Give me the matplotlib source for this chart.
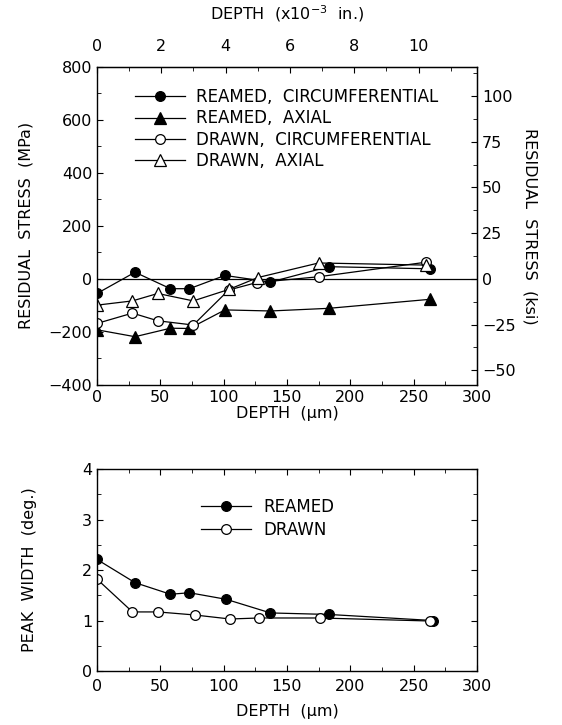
import matplotlib
matplotlib.use("Agg")
import matplotlib.pyplot as plt
from matplotlib.ticker import MultipleLocator, FixedLocator

plt.rcParams["font.family"] = ["DejaVu Sans"]
plt.rcParams["font.size"] = 11.5

# residual stress (MPa) vs depth (um)
reamed_circ_depth = [0, 30, 58, 73, 101, 137, 183, 263]
reamed_circ_mpa = [-55, 25, -37, -37, 13, -12, 46, 38]
reamed_axial_depth = [0, 30, 58, 73, 101, 137, 183, 263]
reamed_axial_mpa = [-192, -218, -186, -187, -117, -121, -111, -77]
drawn_circ_depth = [0, 28, 48, 76, 104, 126, 175, 260]
drawn_circ_mpa = [-168, -129, -158, -174, -42, -14, 8, 63]
drawn_axial_depth = [0, 28, 48, 76, 104, 127, 175, 260]
drawn_axial_mpa = [-99, -83, -55, -83, -40, 5, 60, 52]

# peak width (deg.) vs depth (um)
pw_reamed_depth = [0, 30, 58, 73, 102, 137, 183, 265]
pw_reamed = [2.21, 1.75, 1.52, 1.55, 1.42, 1.15, 1.12, 1.0]
pw_drawn_depth = [0, 28, 48, 77, 105, 128, 176, 263]
pw_drawn = [1.82, 1.17, 1.17, 1.11, 1.03, 1.05, 1.05, 0.99]

mil_ticks = [0, 2, 4, 6, 8, 10]
ksi_ticks = [-50, -25, 0, 25, 50, 75, 100]

MPA_PER_KSI = 6.895
UM_PER_MIL = 25.4


def style_box(ax):
    ax.tick_params(which="both", direction="in", top=True, right=True)
    ax.tick_params(which="major", length=4)
    ax.tick_params(which="minor", length=3)
    for s in ax.spines.values():
        s.set_linewidth(1.0)


fig = plt.figure(figsize=(5.62, 7.25), dpi=100)
ax1 = fig.add_axes([0.1726, 0.469, 0.676, 0.439])
ax2 = fig.add_axes([0.1726, 0.0745, 0.676, 0.2785])

line_kw = dict(color="black", lw=0.9, markeredgecolor="black", markeredgewidth=0.9)

ax1.axhline(0, color="black", lw=0.9)
ax1.plot(reamed_circ_depth, reamed_circ_mpa, marker="o", ms=7, mfc="black",
         label="REAMED,  CIRCUMFERENTIAL", **line_kw)
ax1.plot(reamed_axial_depth, reamed_axial_mpa, marker="^", ms=8, mfc="black",
         label="REAMED,  AXIAL", **line_kw)
ax1.plot(drawn_circ_depth, drawn_circ_mpa, marker="o", ms=7, mfc="white",
         label="DRAWN,  CIRCUMFERENTIAL", **line_kw)
ax1.plot(drawn_axial_depth, drawn_axial_mpa, marker="^", ms=8, mfc="white",
         label="DRAWN,  AXIAL", **line_kw)

ax1.set_xlim(0, 300)
ax1.set_ylim(-400, 800)
ax1.xaxis.set_major_locator(MultipleLocator(50))
ax1.xaxis.set_minor_locator(MultipleLocator(25))
ax1.yaxis.set_major_locator(MultipleLocator(200))
ax1.yaxis.set_minor_locator(MultipleLocator(100))
style_box(ax1)
ax1.tick_params(top=False, right=False, which="both")
ax1.set_xlabel("DEPTH  (μm)", labelpad=1)
ax1.set_ylabel("RESIDUAL  STRESS  (MPa)", labelpad=11)

top = ax1.secondary_xaxis("top", functions=(lambda x: x / UM_PER_MIL, lambda x: x * UM_PER_MIL))
top.xaxis.set_major_locator(FixedLocator(mil_ticks))
top.xaxis.set_minor_locator(FixedLocator(list(range(0, 12))))
top.tick_params(which="both", direction="in", pad=9)
top.tick_params(which="major", length=4)
top.tick_params(which="minor", length=3)
top.set_xlabel("DEPTH  (x10$^{-3}$  in.)", labelpad=14)

right = ax1.secondary_yaxis("right", functions=(lambda y: y / MPA_PER_KSI, lambda y: y * MPA_PER_KSI))
right.yaxis.set_major_locator(FixedLocator(ksi_ticks))
right.yaxis.set_minor_locator(MultipleLocator(12.5))
right.tick_params(which="both", direction="in")
right.tick_params(which="major", length=4)
right.tick_params(which="minor", length=3)
right.set_ylabel("RESIDUAL  STRESS  (ksi)", rotation=-90, labelpad=16)

ax1.legend(loc="upper left", bbox_to_anchor=(0.06, 0.98), frameon=False,
           handlelength=3.0, handletextpad=0.7, labelspacing=0.2, fontsize=12)

ax2.plot(pw_reamed_depth, pw_reamed, marker="o", ms=7, mfc="black", label="REAMED", **line_kw)
ax2.plot(pw_drawn_depth, pw_drawn, marker="o", ms=7, mfc="white", label="DRAWN", **line_kw)
ax2.set_xlim(0, 300)
ax2.set_ylim(0, 4)
ax2.xaxis.set_major_locator(MultipleLocator(50))
ax2.xaxis.set_minor_locator(MultipleLocator(25))
ax2.yaxis.set_major_locator(MultipleLocator(1))
ax2.yaxis.set_minor_locator(MultipleLocator(0.5))
style_box(ax2)
ax2.tick_params(axis="x", pad=6)
ax2.set_xlabel("DEPTH  (μm)", labelpad=7)
ax2.set_ylabel("PEAK  WIDTH  (deg.)", labelpad=32)
ax2.legend(loc="upper left", bbox_to_anchor=(0.235, 0.93), frameon=False,
           handlelength=3.0, handletextpad=0.7, labelspacing=0.3, fontsize=12)

fig.savefig("out.png", dpi=100)
